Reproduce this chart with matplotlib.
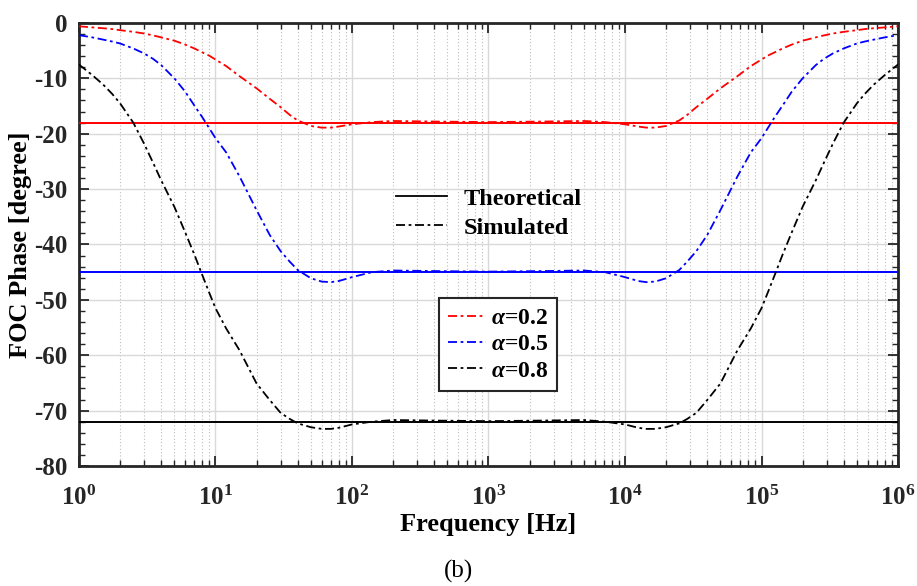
import matplotlib
matplotlib.use("Agg")
import matplotlib.pyplot as plt
from matplotlib.lines import Line2D
from matplotlib.ticker import FixedLocator, FixedFormatter, NullFormatter, MultipleLocator

plt.rcParams['font.family'] = ['Liberation Serif', 'DejaVu Serif']
plt.rcParams['font.weight'] = 'bold'
plt.rcParams['axes.unicode_minus'] = False
plt.rcParams['mathtext.fontset'] = 'custom'
plt.rcParams['mathtext.rm'] = 'Liberation Serif:bold'
plt.rcParams['mathtext.bf'] = 'Liberation Serif:bold'
plt.rcParams['mathtext.it'] = 'Liberation Serif:italic'

# Frequencies (Hz)
freq = [1, 1.25, 1.5, 1.75, 2, 2.5, 3, 3.5, 4, 5, 6, 7, 8, 9, 10, 12, 15, 20, 25,
        30, 35, 40, 50, 60, 70, 80, 100, 140, 200, 400, 1000,
        2500, 5000, 7143, 10000, 12500, 14286, 16667, 20000, 25000, 28571,
        33333, 40000, 50000, 66667, 83333, 100000, 111111, 125000, 142857,
        166667, 200000, 250000, 285714, 333333, 400000, 500000, 571429,
        666667, 800000, 1000000]

# Simulated phase (degrees)
sim_02 = [-0.6, -0.8, -0.95, -1.1, -1.3, -1.6, -1.9, -2.25, -2.6, -3.2, -3.9,
          -4.6, -5.3, -5.9, -6.6, -7.8, -9.6, -11.8, -13.7, -15.2, -16.6, -17.6,
          -18.6, -18.9, -18.9, -18.7, -18.3, -17.9, -17.7, -17.8, -17.9,
          -17.8, -17.7, -17.9, -18.3, -18.7, -18.9, -18.9, -18.6, -17.6, -16.6,
          -15.2, -13.7, -11.8, -9.6, -7.8, -6.6, -5.9, -5.3, -4.6, -3.9, -3.2,
          -2.6, -2.25, -1.9, -1.6, -1.3, -1.1, -0.95, -0.8, -0.6]
sim_05 = [-2.2, -2.6, -3.0, -3.35, -3.7, -4.6, -5.5, -6.5, -7.6, -10.0, -12.4,
          -14.9, -17.0, -19.0, -20.8, -23.4, -27.7, -33.8, -38.3, -41.2, -43.1,
          -44.6, -46.1, -46.7, -46.8, -46.6, -45.9, -45.0, -44.7, -44.8, -44.9,
          -44.8, -44.7, -45.0, -45.9, -46.6, -46.8, -46.7, -46.1, -44.6, -43.1,
          -41.2, -38.3, -33.8, -27.7, -23.4, -20.8, -19.0, -17.0, -14.9, -12.4,
          -10.0, -7.6, -6.5, -5.5, -4.6, -3.7, -3.35, -3.0, -2.6, -2.2]
sim_08 = [-7.5, -9.4, -11.1, -12.8, -14.5, -18.0, -21.8, -25.3, -28.4, -33.2,
          -37.8, -41.8, -45.5, -48.7, -51.5, -55.2, -59.1, -65.1, -68.1, -70.4,
          -71.5, -72.3, -73.0, -73.3, -73.3, -73.1, -72.5, -72.0, -71.7, -71.8,
          -71.9,
          -71.8, -71.7, -72.0, -72.5, -73.1, -73.3, -73.3, -73.0, -72.3, -71.5,
          -70.4, -68.1, -65.1, -59.1, -55.2, -51.5, -48.7, -45.5, -41.8, -37.8,
          -33.2, -28.4, -25.3, -21.8, -18.0, -14.5, -12.8, -11.1, -9.4, -7.5]

# Theoretical phase (degrees)
theory = [-18, -45, -72]
alphas = ['0.2', '0.5', '0.8']
colors = ['#ff0000', '#0000ff', '#000000']

fig = plt.figure(figsize=(9.17, 5.86), dpi=100)
ax = fig.add_axes([0.0861, 0.2048, 0.8932, 0.756])

ds = (0, (5, 2, 1.5, 2))
sims = [sim_02, sim_05, sim_08]
for th, sim, c in zip(theory, sims, colors):
    ax.plot([freq[0], freq[-1]], [th, th], color=c, lw=1.4, zorder=3)
    ax.plot(freq, sim, color=c, lw=1.3, linestyle=ds, zorder=4)

ax.set_xscale('log')
ax.set_xlim(1, 1e6)
ax.set_ylim(-80, 0)

ax.xaxis.set_major_locator(FixedLocator([1, 10, 100, 1e3, 1e4, 1e5, 1e6]))
ax.xaxis.set_major_formatter(FixedFormatter(
    [r'$\mathbf{10^{%d}}$' % i for i in range(7)]))
minors = [m * 10 ** d for d in range(6) for m in range(2, 10)]
ax.xaxis.set_minor_locator(FixedLocator(minors))
ax.xaxis.set_minor_formatter(NullFormatter())
ax.yaxis.set_major_locator(MultipleLocator(10))
ax.yaxis.set_minor_locator(MultipleLocator(2))

ax.grid(True, which='major', color='#d9d9d9', lw=1.0, ls='-', zorder=0)
ax.grid(True, which='minor', axis='x', color='#bdbdbd', lw=0.8, ls=(0, (1, 2)), zorder=0)
ax.set_axisbelow(True)

ax.tick_params(which='both', direction='in', top=True, right=True, colors='#262626')
ax.tick_params(which='major', length=7, width=1.3, labelsize=18, pad=8)
ax.tick_params(axis='x', which='major', pad=14)
ax.tick_params(which='minor', length=4, width=1.0)
for lab in ax.get_yticklabels():
    lab.set_fontweight('bold')
for sp in ax.spines.values():
    sp.set_linewidth(2)
    sp.set_color('#262626')

ax.set_xlabel('Frequency [Hz]', fontsize=19, fontweight='bold', labelpad=2)
ax.set_ylabel('FOC Phase [degree]', fontsize=19, fontweight='bold', labelpad=2)

h1 = [Line2D([], [], color='k', lw=1.3, ls='-'),
      Line2D([], [], color='k', lw=1.3, ls=ds)]
leg1 = fig.legend(h1, ['Theoretical', 'Simulated'], loc='center',
                  bbox_to_anchor=(0.533, 0.636), frameon=False,
                  prop={'family': 'Liberation Serif', 'weight': 'bold', 'size': 17.5},
                  handlelength=2.1, handletextpad=0.7, labelspacing=0.3)

h2 = [Line2D([], [], color=c, lw=1.3, ls=ds) for c in colors]
leg2 = fig.legend(h2, [r'$\alpha$=' + a for a in alphas], loc='center',
                  bbox_to_anchor=(0.543, 0.412), frameon=True, fancybox=False,
                  edgecolor='#262626', framealpha=1,
                  prop={'family': 'Liberation Serif', 'weight': 'bold', 'size': 17},
                  handlelength=1.6, handletextpad=0.2, labelspacing=0.2,
                  borderpad=0.4, borderaxespad=0)
leg2.get_frame().set_linewidth(1.5)

fig.text(0.5, 0.024, '(b)', ha='center', va='center', fontsize=18,
         fontweight='normal', family='Liberation Serif')

fig.savefig('out.png', dpi=100)
